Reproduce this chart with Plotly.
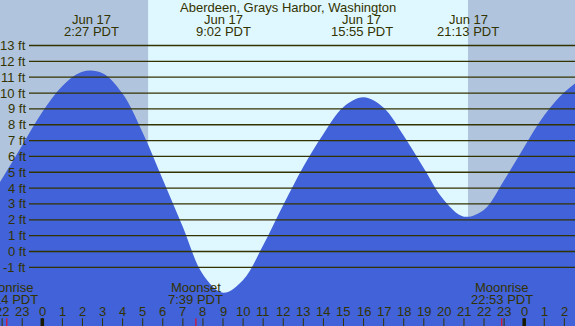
import plotly.graph_objects as go

# ---------------- data ----------------
title_text = "Aberdeen, Grays Harbor, Washington"

# tide curve: hourly readings, hours after midnight Jun 17 (PDT), height in feet
tide_hours = [-3, -2, -1, 0, 1, 2, 3, 4, 5, 6, 7, 8, 9, 10, 11, 12, 13, 14, 15,
              16, 17, 18, 19, 20, 21, 22, 23, 24, 25, 26, 27, 28]
tide_ft = [2.6, 4.6, 6.7, 8.8, 10.45, 11.35, 11.25, 9.95, 7.5, 4.55, 1.55, -1.45,
           -2.6, -1.79, 0.39, 2.93, 5.35, 7.42, 9.12, 9.73, 9.07, 7.3, 5.25, 3.25, 2.2,
           2.64, 4.5, 6.6, 8.6, 10.05, 10.95, 11.2]

# high / low tide labels
extreme_hours = [2.45, 9.033, 15.917, 21.217, 27.42]
extreme_dates = ["Jun 17", "Jun 17", "Jun 17", "Jun 17", "Jun 18"]
extreme_times = ["2:27 PDT", "9:02 PDT", "15:55 PDT", "21:13 PDT", "3:25 PDT"]

# moon events
moon_hours = [-1.767, 7.65, 22.883]
moon_names = ["Moonrise", "Moonset", "Moonrise"]
moon_times = ["22:14 PDT", "7:39 PDT", "22:53 PDT"]

# sun
sunrise_hour = 5.27
sunset_hour = 21.2

# hour ticks along the bottom
tick_hours = [-2, -1, 0, 1, 2, 3, 4, 5, 6, 7, 8, 9, 10, 11, 12, 13, 14, 15, 16,
              17, 18, 19, 20, 21, 22, 23, 24, 25, 26]
tick_labels = ["22", "23", "0", "1", "2", "3", "4", "5", "6", "7", "8", "9", "10",
               "11", "12", "13", "14", "15", "16", "17", "18", "19", "20", "21",
               "22", "23", "0", "1", "2"]
midnight_hours = [0, 24]

# height levels (ft) with grid lines
level_ft = [-1, 0, 1, 2, 3, 4, 5, 6, 7, 8, 9, 10, 11, 12, 13]

# ---------------- styling ----------------
W, H = 575, 326
NIGHT = "#b0c4de"
DAY = "#dff7ff"
WATER = "#4162d8"
INK = "#333300"
FONT = "Liberation Sans, Arial, sans-serif"
X_RANGE = [-2.107, 26.53]
Y_RANGE = [-4.70, 15.87]


def py(px):
    """pixel row -> paper y"""
    return 1 - px / H


fig = go.Figure()

# baseline (below the visible range) so the water can be filled down to it
fig.add_trace(go.Scatter(x=[tide_hours[0], tide_hours[-1]], y=[-10, -10],
                         mode="lines", line=dict(width=0, color=WATER),
                         hoverinfo="skip", showlegend=False))
fig.add_trace(go.Scatter(x=tide_hours, y=tide_ft, mode="lines",
                         line=dict(width=0, color=WATER, shape="spline", smoothing=1),
                         fill="tonexty", fillcolor=WATER,
                         hoverinfo="skip", showlegend=False))

shapes = []
# daylight band
shapes.append(dict(type="rect", xref="x", yref="paper", x0=sunrise_hour, x1=sunset_hour,
                   y0=0, y1=1, fillcolor=DAY, line=dict(width=0), layer="below"))
# level lines
for v in level_ft:
    shapes.append(dict(type="line", xref="paper", yref="y", x0=29 / W, x1=1, y0=v, y1=v,
                       line=dict(color=INK, width=1.3), layer="above"))
# hour ticks
for hx in tick_hours:
    shapes.append(dict(type="line", xref="x", yref="paper", x0=hx, x1=hx,
                       y0=0, y1=py(318.3), line=dict(color=INK, width=1), layer="above"))
for hx in midnight_hours:
    shapes.append(dict(type="line", xref="x", yref="paper", x0=hx, x1=hx,
                       y0=0, y1=py(318.3), line=dict(color="#1a1a00", width=3.5), layer="above"))
for hx in moon_hours:
    shapes.append(dict(type="line", xref="x", yref="paper", x0=hx, x1=hx,
                       y0=0, y1=py(318.3), line=dict(color="red", width=1), layer="above"))

ann = []
f13 = dict(family=FONT, size=13, color=INK)
ann.append(dict(text=title_text, xref="paper", yref="paper", x=0.5, y=py(7.5),
                xanchor="center", yanchor="middle", showarrow=False, font=f13))
for hx, d, t in zip(extreme_hours, extreme_dates, extreme_times):
    ann.append(dict(text=d, xref="x", yref="paper", x=hx, y=py(19.5), xanchor="center",
                    yanchor="middle", showarrow=False, font=f13))
    ann.append(dict(text=t, xref="x", yref="paper", x=hx, y=py(31.7), xanchor="center",
                    yanchor="middle", showarrow=False, font=f13))
for hx, n, t in zip(moon_hours, moon_names, moon_times):
    ann.append(dict(text=n, xref="x", yref="paper", x=hx, y=py(287), xanchor="center",
                    yanchor="middle", showarrow=False, font=f13))
    ann.append(dict(text=t, xref="x", yref="paper", x=hx, y=py(299.3), xanchor="center",
                    yanchor="middle", showarrow=False, font=f13))
for hx, lab in zip(tick_hours, tick_labels):
    ann.append(dict(text=lab, xref="x", yref="paper", x=hx, y=py(311.7), xanchor="center",
                    yanchor="middle", showarrow=False, font=f13))
for v in level_ft:
    ann.append(dict(text=f"{v} ft", xref="paper", yref="y", x=27.5 / W, y=v,
                    xanchor="right", yanchor="middle", showarrow=False, font=f13))

fig.update_layout(
    width=W, height=H, margin=dict(l=0, r=0, t=0, b=0),
    paper_bgcolor=NIGHT, plot_bgcolor=NIGHT,
    xaxis=dict(range=X_RANGE, visible=False, fixedrange=True),
    yaxis=dict(range=Y_RANGE, visible=False, fixedrange=True),
    shapes=shapes, annotations=ann, showlegend=False,
)

fig.write_html("out.html", config={"displayModeBar": False},
               post_script="document.body.style.margin='0';document.body.style.overflow='hidden';")
